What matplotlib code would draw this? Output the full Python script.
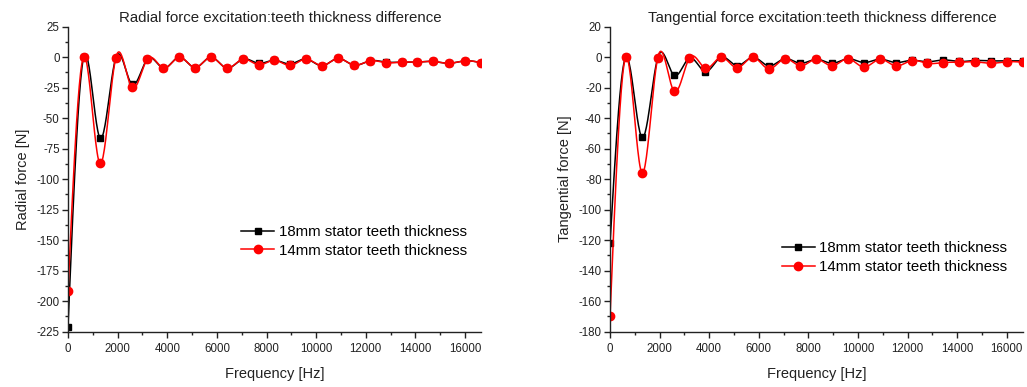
import numpy as np
import matplotlib
matplotlib.use("Agg")
import matplotlib.pyplot as plt
from matplotlib.ticker import MultipleLocator

plt.rcParams['font.family'] = ['Liberation Sans', 'DejaVu Sans']
plt.rcParams['axes.unicode_minus'] = False

# harmonic frequencies [Hz]
freq = np.arange(27) * 640.0

radial_18 = [-221, 0.5, -66, -1, -22, -1.5, -9, 0, -8.5, 0, -9, -1.6, -5, -2.5,
             -5.5, -1.5, -7, -1, -6.5, -3, -4, -4, -4, -3.5, -5, -3, -4.5]
radial_14 = [-192, 0.5, -87, -1, -24.5, -1.5, -9, 0, -8.5, 0, -9, -1.6, -6.3, -2.5,
             -6.8, -1.5, -7, -1, -6.5, -3, -4.5, -4, -4, -3.5, -5, -3, -4.5]

tang_18 = [-122, 0, -52.5, -0.6, -11.6, -0.6, -9.4, 0, -5.5, 0, -5.7, -1, -4, -1.3,
           -4, -1, -3.5, -1.3, -3.5, -2, -3, -1.8, -2.8, -2.2, -2.4, -2.4, -2.4]
tang_14 = [-170, 0, -75.7, -0.6, -21.9, -0.6, -7.2, 0, -7, 0, -7.7, -1, -5.7, -1.3,
           -5.7, -1, -6.5, -1.3, -5.7, -2.2, -4, -3.5, -3.3, -3, -4, -3, -3.3]

labels = ['18mm stator teeth thickness', '14mm stator teeth thickness']


def natural_spline(x, y, n=24):
    """Natural cubic spline through (x, y); returns dense x, y and knot indices."""
    x = np.asarray(x, float)
    y = np.asarray(y, float)
    m = len(x)
    h = np.diff(x)
    A = np.zeros((m, m))
    b = np.zeros(m)
    A[0, 0] = A[-1, -1] = 1.0
    for i in range(1, m - 1):
        A[i, i - 1] = h[i - 1]
        A[i, i] = 2 * (h[i - 1] + h[i])
        A[i, i + 1] = h[i]
        b[i] = 6 * ((y[i + 1] - y[i]) / h[i] - (y[i] - y[i - 1]) / h[i - 1])
    M = np.linalg.solve(A, b)
    xs, ys, knots = [], [], []
    for i in range(m - 1):
        t = np.linspace(x[i], x[i + 1], n, endpoint=False)
        a = x[i + 1] - t
        c = t - x[i]
        s = (M[i] * a ** 3 + M[i + 1] * c ** 3) / (6 * h[i]) \
            + (y[i] / h[i] - M[i] * h[i] / 6) * a \
            + (y[i + 1] / h[i] - M[i + 1] * h[i] / 6) * c
        knots.append(len(xs))
        xs.extend(t)
        ys.extend(s)
    knots.append(len(xs))
    xs.append(x[-1])
    ys.append(y[-1])
    return np.array(xs), np.array(ys), knots


def draw(ax, y18, y14, title, ylabel, ylim, ymajor, legend_anchor, ylabelpad):
    for y, col, mk, ms in [(y18, 'black', 's', 5.0), (y14, 'red', 'o', 6.0)]:
        xs, ys, knots = natural_spline(freq, y)
        ax.plot(xs, ys, color=col, lw=1.1, marker=mk, ms=ms, markevery=knots,
                mec=col, mfc=col)
    ax.set_xlim(0, 16640)
    ax.set_ylim(*ylim)
    ax.xaxis.set_major_locator(MultipleLocator(2000))
    ax.xaxis.set_minor_locator(MultipleLocator(1000))
    ax.yaxis.set_major_locator(MultipleLocator(ymajor))
    ax.yaxis.set_minor_locator(MultipleLocator(ymajor / 2))
    for s in ['top', 'right']:
        ax.spines[s].set_visible(False)
    for s in ['left', 'bottom']:
        ax.spines[s].set_color('#222222')
        ax.spines[s].set_linewidth(1.0)
    ax.tick_params(which='major', direction='out', length=4, width=1, colors='#222222',
                   labelsize=8.3)
    ax.tick_params(axis='x', which='major', pad=4)
    ax.tick_params(axis='y', which='major', pad=2)
    ax.tick_params(which='minor', direction='out', length=2.5, width=1, colors='#222222')
    ax.set_title(title, fontsize=10.8, color='#222222', pad=3.5, x=0.515)
    ax.set_xlabel('Frequency [Hz]', fontsize=10.5, color='#222222', labelpad=9)
    ax.set_ylabel(ylabel, fontsize=10.5, color='#222222', labelpad=ylabelpad)
    ax.legend(labels, loc='center left', bbox_to_anchor=legend_anchor, frameon=False,
              fontsize=10.8, handlelength=2.2, handletextpad=0.3, borderpad=0,
              borderaxespad=0, labelspacing=0.3)


fig = plt.figure(figsize=(10.27, 3.87), dpi=100)
ax1 = fig.add_axes([0.0662, 0.143, 0.4021, 0.788])
ax2 = fig.add_axes([0.594, 0.143, 0.4018, 0.788])

draw(ax1, radial_18, radial_14, 'Radial force excitation:teeth thickness difference',
     'Radial force [N]', (-225, 25), 25, (0.419, 0.296), 5)
draw(ax2, tang_18, tang_14, 'Tangential force excitation:teeth thickness difference',
     'Tangential force [N]', (-180, 20), 20, (0.416, 0.243), 5)

fig.savefig('out.png', dpi=100)
